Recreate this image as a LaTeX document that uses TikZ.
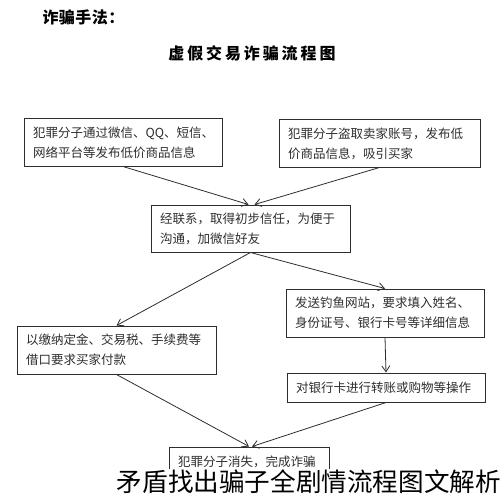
\documentclass[tikz,border=0pt]{standalone}
\usepackage{fontspec}
\setmainfont{Noto Sans CJK SC}
\newfontfamily\titlefont[LetterSpace=18]{Noto Sans CJK SC}
\newfontfamily\headfont[LetterSpace=3]{Noto Sans CJK SC}
\usepackage{tikz}
\usetikzlibrary{arrows.meta}

\begin{document}
\begin{tikzpicture}[x=1pt,y=-1pt]

\useasboundingbox (0,0) rectangle (503,500);

\definecolor{ink}{RGB}{45,45,45};
\tikzset{
  stepbox/.style={draw=ink, line width=1pt, inner xsep=9pt, inner ysep=0pt, align=left,
    text=ink, font=\fontsize{12.5}{20}\selectfont, minimum height=47pt, text width=#1},
  link/.style={draw=ink, line width=0.8pt, -{Straight Barb[length=6pt,width=8pt]}}
}

% headings
\node[anchor=west, font=\headfont\bfseries\fontsize{16}{18}\selectfont] (head) at (39,17) {诈骗手法：};
\node[font=\titlefont\bfseries\fontsize{16}{18}\selectfont] (title) at (252,53) {虚假交易诈骗流程图};

% boxes
\node[stepbox=180pt] (lure) at (123,142.5) {犯罪分子通过微信、QQ、短信、\\网络平台等发布低价商品信息};
\node[stepbox=183pt] (steal) at (379.5,143.5) {犯罪分子盗取卖家账号，发布低\\价商品信息，吸引买家};
\node[stepbox=181pt] (trust) at (250.5,228.5) {经联系，取得初步信任，为便于\\沟通，加微信好友};
\node[stepbox=181pt, minimum height=48pt] (pay) at (116.5,350) {以缴纳定金、交易税、手续费等\\借口要求买家付款};
\node[stepbox=180pt, minimum height=48pt] (phish) at (385,313) {发送钓鱼网站，要求填入姓名、\\身份证号、银行卡号等详细信息};
\node[stepbox=180pt, minimum height=29pt] (card) at (386,387.5) {对银行卡进行转账或购物等操作};
\node[stepbox=142pt, minimum height=29pt] (gone) at (249,461.5) {犯罪分子消失，完成诈骗};

% connectors
\draw[link] (lure.south) -- ([xshift=-2pt]trust.north);
\draw[link] (steal.south) -- ([xshift=4pt]trust.north);
\draw[link] (trust.south) -- (pay.north);
\draw[link] (trust.south) -- (phish.north);
\draw[link] (phish.south) -- (card.north);
\draw[link] (pay.south) -- (gone.north);
\draw[link] (card.south) -- ([xshift=3pt]gone.north);

% caption over the picture
\node[fill=white, inner sep=1pt, anchor=east, font=\fontsize{25.6}{28}\selectfont] (caption) at (502,482) {矛盾找出骗子全剧情流程图文解析};

\end{tikzpicture}
\end{document}
